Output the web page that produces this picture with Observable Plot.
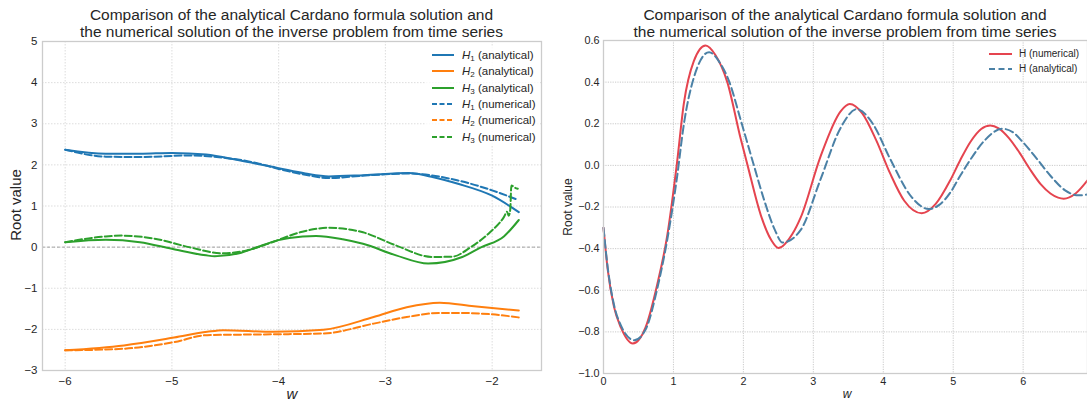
<!DOCTYPE html>
<html>
<head>
<meta charset="utf-8">
<script src="https://cdn.jsdelivr.net/npm/d3@7"></script>
<script src="https://cdn.jsdelivr.net/npm/@observablehq/plot@0.6"></script>
<style>
  body { margin: 0; background: white; }
  #root { position: relative; width: 1087px; height: 403px; background: white; overflow: hidden;
          font-family: "Liberation Sans", Arial, sans-serif; color: #262626; }
  .abs { position: absolute; }
  .title { font-size: 15.5px; line-height: 16.5px; text-align: center; white-space: nowrap; }
  .leg { position: absolute; white-space: nowrap; color: #262626; }
  .leg sub { font-size: 0.7em; vertical-align: -0.25em; line-height: 0; }
</style>
</head>
<body>
<div id="root">
  <div id="left" class="abs" style="left:0;top:0"></div>
  <div id="right" class="abs" style="left:545px;top:0"></div>
</div>
<script>
// ---------- Left panel data: roots vs w ----------
const h1Analytical = [[-6,2.37],[-5.62,2.27],[-5.3,2.27],[-5.0,2.29],[-4.68,2.25],[-4.37,2.11],[-4.0,1.92],[-3.75,1.79],[-3.53,1.72],[-3.2,1.75],[-2.78,1.80],[-2.55,1.70],[-2.32,1.54],[-2.0,1.25],[-1.75,0.85]];
const h2Analytical = [[-6,-2.51],[-5.45,-2.39],[-4.98,-2.20],[-4.67,-2.06],[-4.52,-2.02],[-4.05,-2.06],[-3.58,-2.01],[-3.11,-1.70],[-2.80,-1.46],[-2.49,-1.35],[-2.17,-1.44],[-1.75,-1.54]];
const h3Analytical = [[-6,0.12],[-5.62,0.18],[-5.3,0.12],[-5.0,-0.04],[-4.68,-0.20],[-4.6,-0.22],[-4.37,-0.15],[-4.21,-0.01],[-4.0,0.17],[-3.9,0.22],[-3.65,0.27],[-3.4,0.19],[-3.21,0.08],[-2.9,-0.20],[-2.6,-0.40],[-2.28,-0.24],[-2.1,0.0],[-1.89,0.26],[-1.75,0.66]];
const h1Numerical = [[-6,2.37],[-5.62,2.20],[-5.3,2.19],[-4.84,2.23],[-4.5,2.17],[-4.2,2.04],[-4.0,1.90],[-3.75,1.76],[-3.53,1.68],[-3.2,1.74],[-2.78,1.79],[-2.32,1.62],[-2.0,1.38],[-1.77,1.16]];
const h2Numerical = [[-6,-2.51],[-5.45,-2.47],[-4.98,-2.31],[-4.67,-2.14],[-4.05,-2.12],[-3.58,-2.10],[-3.11,-1.86],[-2.80,-1.70],[-2.49,-1.60],[-2.33,-1.60],[-2.02,-1.63],[-1.75,-1.71]];
const h3Numerical = [[-6,0.12],[-5.62,0.26],[-5.47,0.28],[-5.15,0.20],[-4.84,0.0],[-4.53,-0.15],[-4.3,-0.08],[-4.06,0.12],[-3.8,0.36],[-3.53,0.47],[-3.21,0.36],[-2.9,0.04],[-2.56,-0.24],[-2.37,-0.23],[-2.2,0.0],[-2.02,0.36],[-1.89,0.73],[-1.86,0.86],[-1.845,0.76],[-1.83,0.92],[-1.82,1.5],[-1.79,1.45],[-1.76,1.42]];

// ---------- Right panel data: H vs w ----------
const hNumerical = [[0,-0.30],[0.06,-0.50],[0.15,-0.68],[0.25,-0.78],[0.42,-0.856],[0.6,-0.78],[0.77,-0.57],[0.91,-0.34],[1.05,0.01],[1.15,0.30],[1.29,0.50],[1.46,0.576],[1.6,0.53],[1.77,0.40],[1.96,0.13],[2.06,0.0],[2.25,-0.24],[2.4,-0.36],[2.5,-0.397],[2.7,-0.33],[2.82,-0.25],[3.1,0.04],[3.39,0.26],[3.52,0.295],[3.7,0.25],[3.9,0.12],[4.1,-0.04],[4.3,-0.17],[4.55,-0.23],[4.75,-0.185],[4.96,-0.07],[5.1,0.025],[5.25,0.115],[5.4,0.175],[5.53,0.192],[5.65,0.178],[5.8,0.13],[5.95,0.06],[6.1,-0.02],[6.25,-0.09],[6.39,-0.135],[6.5,-0.155],[6.58,-0.16],[6.75,-0.135],[6.92,-0.072]];
const hAnalytical = [[0,-0.30],[0.06,-0.49],[0.15,-0.67],[0.25,-0.77],[0.44,-0.84],[0.6,-0.79],[0.77,-0.59],[0.91,-0.36],[1.05,-0.06],[1.15,0.20],[1.29,0.42],[1.51,0.544],[1.65,0.50],[1.8,0.40],[1.96,0.22],[2.15,0.0],[2.3,-0.17],[2.45,-0.31],[2.56,-0.371],[2.82,-0.31],[3.1,-0.07],[3.39,0.18],[3.62,0.27],[3.85,0.20],[4.1,0.03],[4.4,-0.15],[4.65,-0.21],[4.8,-0.19],[4.96,-0.13],[5.1,-0.05],[5.25,0.03],[5.45,0.12],[5.7,0.176],[5.85,0.16],[6.0,0.11],[6.2,0.03],[6.39,-0.05],[6.6,-0.12],[6.79,-0.144],[6.92,-0.14]];

// ---------- ticks & labels ----------
const leftXTicks = [-6,-5,-4,-3,-2];
const leftYTicks = [-3,-2,-1,0,1,2,3,4,5];
const rightXTicks = [0,1,2,3,4,5,6];
const rightYTicks = [-1.0,-0.8,-0.6,-0.4,-0.2,0.0,0.2,0.4,0.6];
const titleLines = ["Comparison of the analytical Cardano formula solution and", "the numerical solution of the inverse problem from time series"];
const yLabel = "Root value";
const xLabel = "w";

const leftSeries = [
  {sub: "1", kind: "analytical", data: h1Analytical, color: "#1f77b4", dash: null},
  {sub: "2", kind: "analytical", data: h2Analytical, color: "#ff7f0e", dash: null},
  {sub: "3", kind: "analytical", data: h3Analytical, color: "#2ca02c", dash: null},
  {sub: "1", kind: "numerical", data: h1Numerical, color: "#1f77b4", dash: "7,3"},
  {sub: "2", kind: "numerical", data: h2Numerical, color: "#ff7f0e", dash: "7,3"},
  {sub: "3", kind: "numerical", data: h3Numerical, color: "#2ca02c", dash: "7,3"}
];
const rightSeries = [
  {label: "H (numerical)", data: hNumerical, color: "#e5444f", dash: null},
  {label: "H (analytical)", data: hAnalytical, color: "#4b81a6", dash: "8,4"}
];

const toRows = arr => arr.map(([x, y]) => ({x, y}));
const font = '"Liberation Sans", Arial, sans-serif';

// ---------- Left chart ----------
const leftPlot = Plot.plot({
  width: 545, height: 403,
  marginLeft: 42, marginRight: 4, marginTop: 41, marginBottom: 33,
  x: {domain: [-6.2125, -1.5375]},
  y: {domain: [-3, 5]},
  style: {fontFamily: font, fontSize: "11.5px", color: "#262626", background: "white"},
  marks: [
    Plot.gridX(leftXTicks, {stroke: "#d9d9d9", strokeOpacity: 1, strokeDasharray: "1.5,1.5", strokeWidth: 0.9}),
    Plot.gridY(leftYTicks, {stroke: "#d9d9d9", strokeOpacity: 1, strokeDasharray: "1.5,1.5", strokeWidth: 0.9}),
    Plot.ruleY([0], {stroke: "#999", strokeWidth: 0.9, strokeDasharray: "3,2"}),
    ...leftSeries.map(s => Plot.line(toRows(s.data), {
      x: "x", y: "y", stroke: s.color, strokeWidth: 2,
      strokeDasharray: s.dash, curve: "monotone-x"
    })),
    Plot.frame({stroke: "#cccccc", strokeWidth: 1.3}),
    Plot.axisX(leftXTicks, {tickSize: 0, tickPadding: 6, label: null, tickFormat: d3.format("d"), fontSize: 11.5}),
    Plot.axisY(leftYTicks, {tickSize: 0, tickPadding: 5, label: null, tickFormat: d3.format("d"), fontSize: 11.5})
  ]
});
document.getElementById("left").append(leftPlot);

// ---------- Right chart ----------
const rightPlot = Plot.plot({
  width: 542, height: 403,
  marginLeft: 58, marginRight: 0, marginTop: 40, marginBottom: 30,
  x: {domain: [0, 6.92]},
  y: {domain: [-1.0, 0.6]},
  style: {fontFamily: font, fontSize: "10.8px", color: "#262626", background: "white"},
  marks: [
    Plot.gridX(rightXTicks, {stroke: "#c4c4c4", strokeOpacity: 1, strokeDasharray: "1.2,1.2", strokeWidth: 0.9}),
    Plot.gridY(rightYTicks, {stroke: "#c4c4c4", strokeOpacity: 1, strokeDasharray: "1.2,1.2", strokeWidth: 0.9}),
    ...rightSeries.map(s => Plot.line(toRows(s.data), {
      x: "x", y: "y", stroke: s.color, strokeWidth: 2,
      strokeDasharray: s.dash, curve: "monotone-x"
    })),
    Plot.frame({stroke: "#cccccc", strokeWidth: 1.3}),
    Plot.axisX(rightXTicks, {tickSize: 0, tickPadding: 4, label: null, tickFormat: d3.format("d"), fontSize: 10.8}),
    Plot.axisY(rightYTicks, {tickSize: 0, tickPadding: 4, label: null, tickFormat: d3.format(".1f"), fontSize: 10.8})
  ]
});
document.getElementById("right").append(rightPlot);

// ---------- Text overlays ----------
const root = document.getElementById("root");
function addDiv(html, css, cls) {
  const d = document.createElement("div");
  d.className = cls || "abs";
  d.innerHTML = html;
  Object.assign(d.style, css);
  root.append(d);
  return d;
}
// titles
addDiv(titleLines.join("<br>"), {left: "42px", width: "499px", top: "7px"}, "abs title");
addDiv(titleLines.join("<br>"), {left: "603px", width: "484px", top: "7px"}, "abs title");
// y labels
addDiv(yLabel, {left: "15px", top: "205px", fontSize: "15px", transform: "translate(-50%,-50%) rotate(-90deg)", whiteSpace: "nowrap"});
addDiv(yLabel, {left: "568px", top: "207px", fontSize: "12px", transform: "translate(-50%,-50%) rotate(-90deg)", whiteSpace: "nowrap"});
// x labels
addDiv("<i>" + xLabel + "</i>", {left: "292px", top: "393px", fontSize: "15px", transform: "translate(-50%,-50%)"});
addDiv("<i>" + xLabel + "</i>", {left: "847px", top: "394px", fontSize: "12px", transform: "translate(-50%,-50%)"});

// legends
function sample(color, dash, w) {
  return `<svg width="${w}" height="6" style="vertical-align:middle;overflow:visible"><line x1="0" y1="3" x2="${w}" y2="3" stroke="${color}" stroke-width="2" ${dash ? `stroke-dasharray="${dash}"` : ""}/></svg>`;
}
addDiv("", {left: "426px", top: "46px", width: "113px", height: "99px", background: "rgba(255,255,255,0.8)"});
leftSeries.forEach((s, i) => {
  const cy = 55 + i * 16.3;
  addDiv(sample(s.color, s.dash ? "5,2.5" : null, 22), {left: "432px", top: (cy - 3) + "px", lineHeight: "0"});
  addDiv(`<i>H</i><sub>${s.sub}</sub> (${s.kind})`, {left: "462px", top: (cy - 8) + "px", fontSize: "11.5px", lineHeight: "16px"}, "leg");
});
rightSeries.forEach((s, i) => {
  const cy = 54 + i * 15.3;
  addDiv(sample(s.color, s.dash ? "6,3.5" : null, 23), {left: "989px", top: (cy - 3) + "px", lineHeight: "0"});
  addDiv(s.label, {left: "1019px", top: (cy - 7) + "px", fontSize: "10px", lineHeight: "14px"}, "leg");
});
</script>
</body>
</html>
